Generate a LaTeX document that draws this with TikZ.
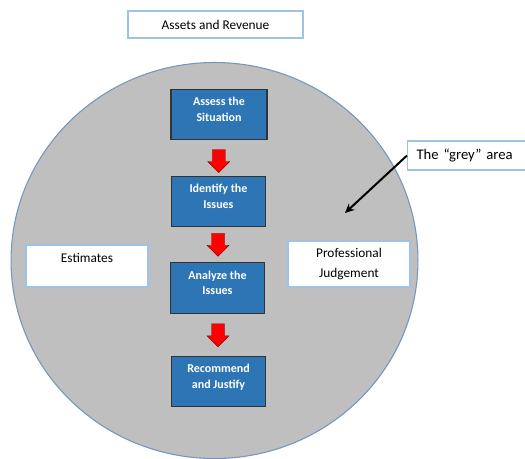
\documentclass[tikz,border=0pt]{standalone}
\usepackage{fontspec}
\setmainfont{Carlito}
\usetikzlibrary{arrows.meta, positioning, calc}
\definecolor{areaGray}{RGB}{191,191,191}
\definecolor{rimBlue}{RGB}{118,150,190}
\definecolor{boxBlue}{RGB}{46,117,182}
\definecolor{lineBlue}{RGB}{157,195,230}
\definecolor{arrowRed}{RGB}{255,0,0}

\begin{document}
\begin{tikzpicture}[x=0.75pt, y=-0.75pt, >={Stealth[length=7pt, width=6.5pt]},
    stepbox/.style={draw=black!80, line width=0.9pt, fill=boxBlue, text=white,
        font=\fontsize{9}{11.8}\selectfont\bfseries, align=center,
        minimum width=70pt, minimum height=38pt, inner sep=0pt, text depth=8pt},
    notebox/.style={draw=lineBlue, line width=0.9pt, fill=white,
        font=\fontsize{10}{14.5}\selectfont, align=center,
        minimum width=91.5pt, inner sep=0pt},
    redarrow/.style={fill=arrowRed, draw=red!55!black, line width=0.3pt}]
    \useasboundingbox[fill=white] (0,0) rectangle (525,458);

    \draw[rimBlue, fill=areaGray, line width=0.8pt] (214.5,260.5) ellipse [x radius=152.6pt, y radius=148.5pt];

    \node[notebox, minimum width=131.25pt, minimum height=20.25pt] (assets) at (215.5,24.5) {Assets and Revenue};

    \node[stepbox, minimum width=72pt] (assess) at (219,114.5) {Assess the\\Situation};
    \node[stepbox] (identify) at (218.5,201.5) {Identify the\\Issues};
    \node[stepbox] (analyze) at (217.5,288) {Analyze the\\Issues};
    \node[stepbox] (recommend) at (218.5,381.5) {Recommend\\and Justify};

    \foreach \a/\b/\d in {assess/identify/-8.5, identify/analyze/-11.5, analyze/recommend/-11}
        \draw[redarrow, shift={($(\a.south)!0.5!(\b.north)+(0,\d)$)}]
            (-6.5,0) -- (6.5,0) -- (6.5,12) -- (11,12) -- (0,23) -- (-11,12) -- (-6.5,12) -- cycle;

    \node[notebox, minimum height=31.5pt, text depth=12pt] (estimates) at (87,266) {Estimates};
    \node[notebox, minimum height=34.5pt] (judgement) at (349,264) {Professional\\Judgement};

    \node[notebox, anchor=west, minimum width=90pt, minimum height=21.75pt, inner xsep=6.75pt,
        text width=76.5pt, align=left, font=\fontsize{11}{13}\selectfont] (greyArea) at (407,155.5) {The “grey” area};
    \coordinate (greyTip) at (345,213);
    \draw[->, line width=1.5pt] (greyArea.west) -- (greyTip);
\end{tikzpicture}
\end{document}
